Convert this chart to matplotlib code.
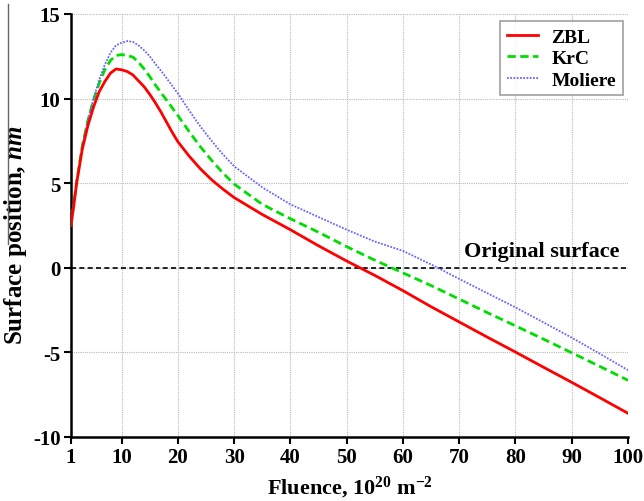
import matplotlib
matplotlib.use("Agg")
import matplotlib.pyplot as plt
from matplotlib.lines import Line2D

plt.rcParams['font.family'] = ['Liberation Serif', 'DejaVu Serif']
plt.rcParams['font.weight'] = 'bold'
plt.rcParams['axes.unicode_minus'] = False
plt.rcParams['mathtext.fontset'] = 'custom'
plt.rcParams['mathtext.rm'] = 'Liberation Serif:bold'
plt.rcParams['mathtext.it'] = 'Liberation Serif:bold:italic'
plt.rcParams['mathtext.bf'] = 'Liberation Serif:bold'

fluence = [1, 1.5, 2, 3, 4, 5, 6, 7, 8, 9, 10, 11, 12, 13, 14, 15, 16, 17, 18, 19, 20,
           22, 24, 26, 28, 30, 35, 40, 45, 50, 55, 60, 65, 70, 75, 80, 85, 90, 95, 100]
zbl = [2.5, 3.7, 5.0, 7.0, 8.4, 9.5, 10.4, 11.0, 11.5, 11.75, 11.7, 11.6, 11.4, 11.05, 10.7,
       10.25, 9.75, 9.2, 8.6, 8.0, 7.45, 6.6, 5.85, 5.2, 4.65, 4.15, 3.15, 2.25, 1.3, 0.4,
       -0.45, -1.35, -2.3, -3.2, -4.1, -4.98, -5.88, -6.77, -7.68, -8.6]
krc = [2.5, 3.8, 5.1, 7.2, 8.7, 9.9, 10.9, 11.7, 12.25, 12.55, 12.6, 12.55, 12.45, 12.15, 11.75,
       11.3, 10.8, 10.35, 9.9, 9.45, 9.0, 8.05, 7.15, 6.35, 5.6, 4.95, 3.75, 2.9, 2.1, 1.25,
       0.45, -0.3, -1.05, -1.85, -2.65, -3.43, -4.22, -5.02, -5.83, -6.65]
moliere = [2.5, 3.8, 5.1, 7.2, 8.75, 10.0, 11.1, 12.0, 12.7, 13.15, 13.3, 13.4, 13.35, 13.15, 12.85,
           12.5, 12.05, 11.65, 11.2, 10.75, 10.3, 9.3, 8.35, 7.5, 6.7, 6.0, 4.75, 3.75, 3.0, 2.25,
           1.55, 1.0, 0.2, -0.66, -1.5, -2.34, -3.23, -4.13, -5.08, -6.05]

xticks = [1, 10, 20, 30, 40, 50, 60, 70, 80, 90, 100]
yticks = [-10, -5, 0, 5, 10, 15]

fig = plt.figure(figsize=(6.44, 5.02), dpi=100)
ax = fig.add_axes([71/644, 1 - 438/502, (628 - 71)/644, (438 - 15)/502])

ax.grid(True, color='#b8b8b8', linestyle=(0, (1, 1)), linewidth=0.8)
ax.set_axisbelow(True)

ax.axhline(0, color='black', linestyle=(0, (3, 2)), linewidth=1.2, zorder=2)
ax.plot(fluence, zbl, color='#ff0000', linewidth=2.0, label='ZBL', zorder=4)
ax.plot(fluence, krc, color='#00dd00', linewidth=2.0, linestyle=(0, (3, 1.6)), label='KrC', zorder=3)
ax.plot(fluence, moliere, color='#6666ff', linewidth=1.3, linestyle=(0, (1, 0.8)), label='Moliere', zorder=3)

ax.text(98.5, 0.4, 'Original surface', ha='right', va='bottom', fontsize=16, fontweight='bold')

ax.set_xlim(1, 100)
ax.set_ylim(-10, 15)
ax.set_xticks(xticks)
ax.set_yticks(yticks)
ax.tick_params(axis='both', labelsize=15, width=1.5, length=5, direction='out', pad=2.5)
for lab in ax.get_xticklabels() + ax.get_yticklabels():
    lab.set_fontweight('bold')

for s in ['top', 'right']:
    ax.spines[s].set_visible(False)
for s in ['left', 'bottom']:
    ax.spines[s].set_linewidth(1.8)

ax.set_xlabel(r'Fluence, 10$^{20}$ m$^{-2}$', fontsize=16, fontweight='bold')
ax.xaxis.set_label_coords((350 - 71)/557, (438 - 475)/423)
ax.set_ylabel(r'Surface position, $nm$', fontsize=18, fontweight='bold')
ax.yaxis.set_label_coords((29 - 71)/557, (438 - 235)/423)

leg = ax.legend(loc='upper right', bbox_to_anchor=(0.991, 0.983), borderaxespad=0, fontsize=14,
                frameon=True, fancybox=False, edgecolor='#888888', handlelength=1.6, borderpad=0.35,
                labelspacing=0.2, handletextpad=0.7)
leg.get_frame().set_linewidth(1.2)
for t in leg.get_texts():
    t.set_fontweight('bold')

fig.add_artist(Line2D([8/644, 8/644], [1 - 5/502, 1 - 245/502], color='#666666', linewidth=1.0,
                      transform=fig.transFigure))

fig.savefig('out.png', dpi=100)
